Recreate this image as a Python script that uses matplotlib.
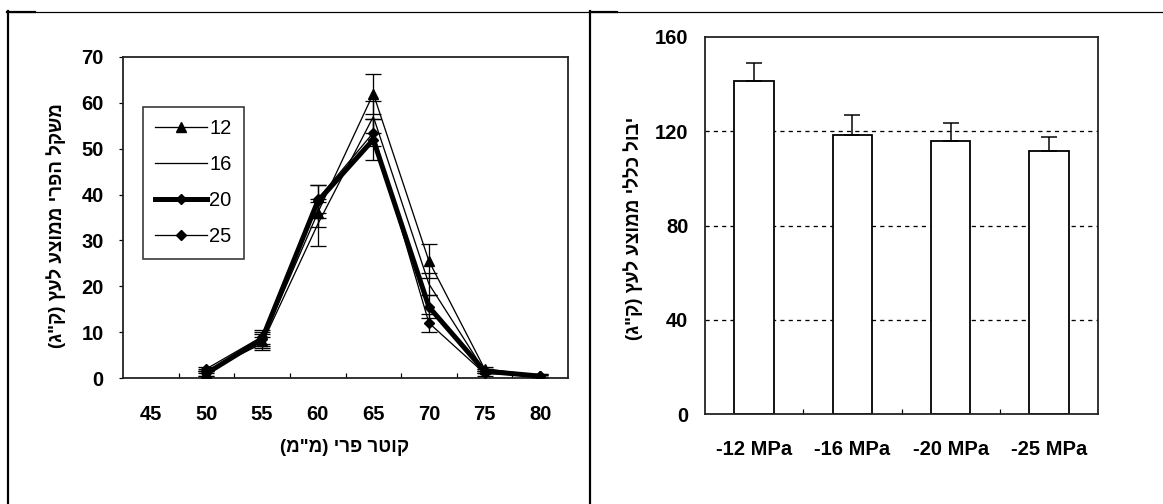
import matplotlib
matplotlib.use("Agg")
import matplotlib.pyplot as plt
from matplotlib.lines import Line2D
import numpy as np

# ---------------- data ----------------
diameters = [50, 55, 60, 65, 70, 75, 80]
x_tick_vals = [45, 50, 55, 60, 65, 70, 75, 80]
series_names = ["12", "16", "20", "25"]
s12 = [1.0, 8.0, 36.0, 62.0, 25.5, 2.0, 0.5]
e12 = [0.5, 1.5, 3.0, 4.4, 3.8, 0.5, 0.3]
s16 = [1.5, 7.5, 33.5, 57.0, 20.5, 1.5, 0.4]
e16 = [0.5, 1.5, 4.8, 3.5, 2.5, 0.5, 0.3]
s20 = [1.0, 8.5, 38.5, 52.0, 15.5, 1.5, 0.4]
e20 = [0.5, 1.5, 3.5, 4.5, 2.5, 0.5, 0.3]
s25 = [2.0, 9.0, 39.0, 53.5, 12.0, 1.0, 0.5]
e25 = [0.5, 1.5, 3.0, 3.0, 2.0, 0.5, 0.3]

bar_labels = ["-12 MPa", "-16 MPa", "-20 MPa", "-25 MPa"]
bar_vals = [141.5, 118.5, 116.0, 111.5]
bar_errs = [7.5, 8.5, 7.5, 6.0]

left_ylabel = 'משקל הפרי ממוצע לעץ (ק"ג)'
left_xlabel = 'קוטר פרי (מ"מ)'
right_ylabel = 'יבול כללי ממוצע לעץ (ק"ג)'


def rtl(s):
    mirror = {"(": ")", ")": "("}
    return "".join(mirror.get(c, c) for c in reversed(s))


FAM = ["Liberation Sans", "DejaVu Sans"]
plt.rcParams["font.family"] = FAM

W, H = 1163, 504
fig = plt.figure(figsize=(W / 100, H / 100), dpi=100)
px = 0.72  # points per pixel


def fx(x):
    return x / W


def fy(y):
    return 1 - y / H


# ---------------- table lines ----------------
fig.add_artist(Line2D([fx(7), fx(1163)], [fy(11.5), fy(11.5)], color="black", lw=1.2 * px))
fig.add_artist(Line2D([fx(7), fx(35)], [fy(12), fy(12)], color="black", lw=2.2 * px))
fig.add_artist(Line2D([fx(590), fx(617)], [fy(12), fy(12)], color="black", lw=2.2 * px))
fig.add_artist(Line2D([fx(8.3), fx(8.3)], [fy(11), fy(504)], color="black", lw=2.2 * px))
fig.add_artist(Line2D([fx(590.5), fx(590.5)], [fy(11), fy(504)], color="black", lw=2.2 * px))

# ---------------- left chart ----------------
axL = fig.add_axes([fx(123), fy(378), (568 - 123) / W, (378 - 57) / H])
axL.set_xlim(42.5, 82.5)
axL.set_ylim(0, 70)

styles = [
    dict(series=s12, err=e12, lw=1.3, marker="^", ms=10),
    dict(series=s16, err=e16, lw=1.3, marker=None, ms=0),
    dict(series=s20, err=e20, lw=5.0, marker="D", ms=7.5),
    dict(series=s25, err=e25, lw=1.3, marker="D", ms=7.5),
]
handles = []
for name, st in zip(series_names, styles):
    axL.errorbar(diameters, st["series"], yerr=st["err"], fmt="none",
                 ecolor="black", elinewidth=1.3 * px, capsize=5.5, capthick=1.3 * px, zorder=2)
    ln, = axL.plot(diameters, st["series"], color="black", lw=st["lw"] * px,
                   marker=st["marker"], ms=st["ms"] * px, mfc="black", mec="black",
                   label=name, zorder=3)
    handles.append(ln)

axL.set_yticks(np.arange(0, 71, 10))
axL.set_xticks(np.arange(47.5, 80, 5))
axL.set_xticklabels([])
axL.set_xticks(x_tick_vals, minor=True)
axL.set_xticklabels([str(v) for v in x_tick_vals], minor=True)
axL.tick_params(axis="x", which="major", direction="in", length=5 * px, width=1.2 * px)
axL.tick_params(axis="x", which="minor", length=0, pad=19.5, labelsize=14.5)
axL.tick_params(axis="y", direction="out", length=4 * px, width=1.2 * px, pad=11, labelsize=14.5)
for lab in axL.get_xticklabels(minor=True) + axL.get_yticklabels():
    lab.set_fontweight("bold")
for sp in axL.spines.values():
    sp.set_linewidth(1.8 * px)
    sp.set_color("#222222")

leg = axL.legend(handles=handles, loc="upper left",
                 bbox_to_anchor=((143 - 123) / 445, (378 - 107) / 321),
                 borderaxespad=0, frameon=True, fancybox=False, numpoints=1,
                 handlelength=2.6, handletextpad=0.1, labelspacing=0.85,
                 borderpad=0.6, prop=dict(family=FAM, size=14.5))
leg.get_frame().set_edgecolor("black")
leg.get_frame().set_linewidth(1.6 * px)

fig.text(fx(345), fy(448), rtl(left_xlabel), ha="center", va="center",
         fontsize=13.5, fontweight="bold")
fig.text(fx(56), fy(226), rtl(left_ylabel), ha="center", va="center",
         rotation=90, fontsize=13.5, fontweight="bold")

# ---------------- right chart ----------------
axR = fig.add_axes([fx(705), fy(414), (1098 - 705) / W, (414 - 37) / H])
xpos = np.arange(len(bar_labels))
axR.set_xlim(-0.5, len(bar_labels) - 0.5)
axR.set_ylim(0, 160)
for g in [40, 80, 120]:
    axR.axhline(g, color="black", lw=1.3 * px, linestyle=(0, (3.2, 3.2)), zorder=1)
axR.bar(xpos, bar_vals, width=0.4, color="white", edgecolor="black",
        linewidth=1.8 * px, zorder=2)
axR.errorbar(xpos, bar_vals, yerr=[[0] * len(bar_errs), bar_errs], fmt="none",
             ecolor="black", elinewidth=1.5 * px, capsize=5.5, capthick=1.5 * px, zorder=3)
axR.set_yticks([0, 40, 80, 120, 160])
axR.set_xticks(np.arange(0.5, len(bar_labels) - 0.5, 1))
axR.set_xticklabels([])
axR.set_xticks(xpos, minor=True)
axR.set_xticklabels(bar_labels, minor=True)
axR.tick_params(axis="x", which="major", direction="in", length=5 * px, width=1.2 * px)
axR.tick_params(axis="x", which="minor", length=0, pad=18.5, labelsize=14.5)
axR.tick_params(axis="y", length=0, pad=12, labelsize=14.5)
for lab in axR.get_xticklabels(minor=True) + axR.get_yticklabels():
    lab.set_fontweight("bold")
for sp in axR.spines.values():
    sp.set_linewidth(1.8 * px)
    sp.set_color("#222222")

fig.text(fx(633), fy(228), rtl(right_ylabel), ha="center", va="center",
         rotation=90, fontsize=13.5, fontweight="bold")

fig.savefig("out.png", dpi=100)
